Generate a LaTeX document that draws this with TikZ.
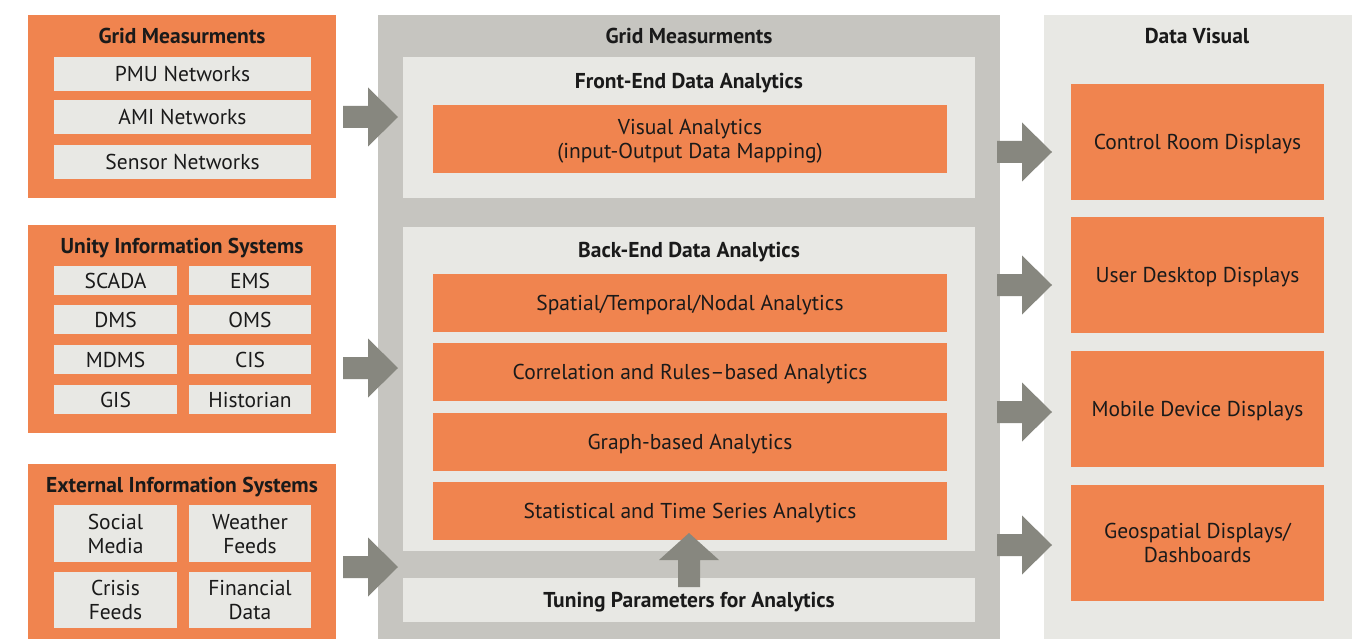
\documentclass[tikz,border=0pt]{standalone}
\usepackage{fontspec}
\setmainfont{PT Sans}
\definecolor{orng}{HTML}{F0844F}
\definecolor{lgray}{HTML}{E8E8E4}
\definecolor{mgray}{HTML}{C6C5C0}
\definecolor{agray}{HTML}{87877F}
\definecolor{txt}{HTML}{1A1A1A}
\tikzset{
  base/.style={rectangle, inner sep=0pt, align=center, text=txt, text depth=0pt, font=\fontsize{21.5}{24}\selectfont},
  ob/.style={base, fill=orng},
  lb/.style={base, fill=lgray},
  gb/.style={base, fill=mgray},
  ttl/.style={inner sep=0pt, text=txt, text depth=0pt, font=\fontsize{21.5}{24}\selectfont\bfseries},
  rarrow/.pic={\fill[agray] (0,-11) -- (25,-11) -- (25,-29.5) -- (55,0) -- (25,29.5) -- (25,11) -- (0,11) -- cycle;},
  uarrow/.pic={\fill[agray] (-11,0) -- (-11,-27) -- (-30,-27) -- (0,-54) -- (30,-27) -- (11,-27) -- (11,0) -- cycle;}
}
\newcommand\bx[7]{\node[#2, minimum width={(#5-#3)*1pt}, minimum height={(#6-#4)*1pt}] (#1) at ({(#3+#5)/2},{(#4+#6)/2}) {#7};}
\begin{document}
\begin{tikzpicture}[x=1pt,y=-1pt]
\useasboundingbox[fill=white] (0,0) rectangle (1367,639);
% left column
\bx{grid}{ob}{28}{15}{336}{198}{}
\node[ttl] (gridt) at (182,36) {Grid Measurments};
\bx{pmu}{lb}{54}{57}{311}{91}{PMU Networks}
\bx{ami}{lb}{54}{100}{311}{134}{AMI Networks}
\bx{sen}{lb}{54}{145}{311}{179}{Sensor Networks}

\bx{uis}{ob}{28}{225}{336}{433}{}
\node[ttl] (uist) at (182,246) {Unity Information Systems};
\bx{scada}{lb}{54}{266}{177}{295}{SCADA}
\bx{ems}{lb}{189}{266}{311}{295}{EMS}
\bx{dms}{lb}{54}{305}{177}{334}{DMS}
\bx{oms}{lb}{189}{305}{311}{334}{OMS}
\bx{mdms}{lb}{54}{345}{177}{374}{MDMS}
\bx{cis}{lb}{189}{345}{311}{374}{CIS}
\bx{gis}{lb}{54}{385}{177}{414}{GIS}
\bx{hist}{lb}{189}{385}{311}{414}{Historian}

\bx{eis}{ob}{28}{464}{336}{639}{}
\node[ttl] (eist) at (182,485) {External Information Systems};
\bx{soc}{lb}{54}{505}{177}{562}{Social\\Media}
\bx{wea}{lb}{189}{505}{311}{562}{Weather\\Feeds}
\bx{cri}{lb}{54}{572}{177}{628}{Crisis\\Feeds}
\bx{fin}{lb}{189}{572}{311}{628}{Financial\\Data}

% middle column
\bx{mid}{gb}{378}{15}{1000}{639}{}
\node[ttl] (midt) at (689,36) {Grid Measurments};
\bx{front}{lb}{403}{57}{975}{198}{}
\node[ttl] (frontt) at (689,81) {Front-End Data Analytics};
\bx{vis}{ob}{433}{105}{947}{173}{Visual Analytics\\(input-Output Data Mapping)}
\bx{back}{lb}{403}{227}{975}{551}{}
\node[ttl] (backt) at (689,250) {Back-End Data Analytics};
\bx{spa}{ob}{433}{274}{947}{332}{Spatial/Temporal/Nodal Analytics}
\bx{cor}{ob}{433}{343}{947}{401}{Correlation and Rules–based Analytics}
\bx{gra}{ob}{433}{413}{947}{471}{Graph-based Analytics}
\bx{sta}{ob}{433}{482}{947}{540}{Statistical and Time Series Analytics}
\bx{tun}{lb}{403}{578}{975}{622}{}
\node[ttl] (tunt) at (689,600) {Tuning Parameters for Analytics};

% right column
\bx{right}{lb}{1044}{15}{1352}{639}{}
\node[ttl] (rightt) at (1197,36) {Data Visual};
\bx{crd}{ob}{1071}{84}{1324}{200}{Control Room Displays}
\bx{udd}{ob}{1071}{217}{1324}{333}{User Desktop Displays}
\bx{mdd}{ob}{1071}{351}{1324}{467}{Mobile Device Displays}
\bx{geo}{ob}{1071}{485}{1324}{601}{Geospatial Displays/\\Dashboards}

% block arrows
\pic at (343,117) {rarrow};
\pic at (343,368) {rarrow};
\pic at (343,567) {rarrow};
\pic at (997,152) {rarrow};
\pic at (997,285) {rarrow};
\pic at (997,412) {rarrow};
\pic at (997,545) {rarrow};
\pic at (689,587) {uarrow};
\end{tikzpicture}
\end{document}
